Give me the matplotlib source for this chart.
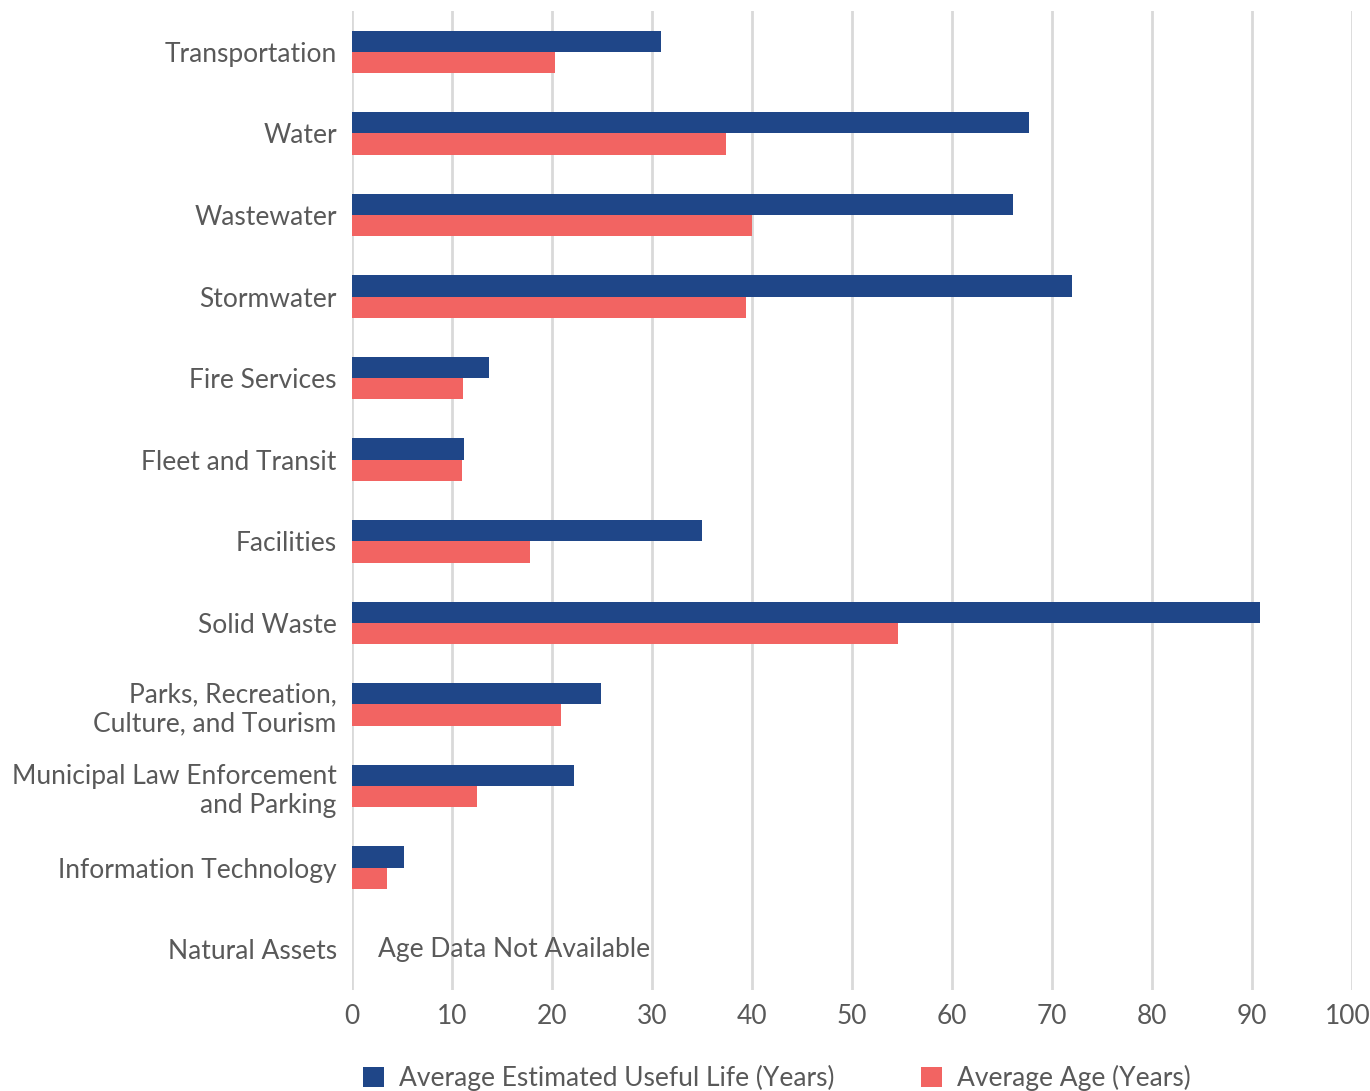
import matplotlib
matplotlib.use("Agg")
import matplotlib.pyplot as plt
import numpy as np
from matplotlib.patches import Patch

categories = ["Transportation", "Water", "Wastewater", "Stormwater", "Fire Services",
              "Fleet and Transit", "Facilities", "Solid Waste",
              "Parks, Recreation,\nCulture, and Tourism",
              "Municipal Law Enforcement\nand Parking",
              "Information Technology", "Natural Assets"]
useful_life = [30.9, 67.7, 66.1, 72.0, 13.7, 11.2, 35.0, 90.8, 24.9, 22.2, 5.2, np.nan]
average_age = [20.3, 37.4, 40.0, 39.4, 11.1, 11.0, 17.8, 54.6, 20.9, 12.5, 3.5, np.nan]
series_names = ["Average Estimated Useful Life (Years)", "Average Age (Years)"]
note_text = "Age Data Not Available"
xticks = [0, 10, 20, 30, 40, 50, 60, 70, 80, 90, 100]

BLUE = "#1F4688"
RED = "#F26462"
GRAY = "#595959"
FS = 19

plt.rcParams['font.family'] = ['Lato', 'DejaVu Sans']

fig = plt.figure(figsize=(13.7, 10.91), dpi=100)
ax = fig.add_axes([352/1370, 1 - 990/1091, 1000/1370, 979/1091])

y = np.arange(len(categories))
h = 0.26
ax.barh(y - h/2, np.nan_to_num(useful_life), height=h, color=BLUE, zorder=3)
ax.barh(y + h/2, np.nan_to_num(average_age), height=h, color=RED, zorder=3)

ax.set_xlim(0, 100)
ax.set_ylim(len(categories) - 0.5, -0.5)
ax.set_xticks(xticks)
# last tick label drawn separately so it can be nudged inside the figure
ax.set_xticklabels([str(t) for t in xticks[:-1]] + [""])
ax.annotate(str(xticks[-1]), xy=(xticks[-1], 0), xycoords=('data', 'axes fraction'),
            xytext=(-3, -10), textcoords='offset points', ha='center', va='top',
            fontsize=FS, color=GRAY)
ax.set_yticks(y)
ax.set_yticklabels(categories, linespacing=1.2)
ax.tick_params(axis='both', length=0, labelsize=FS, colors=GRAY)
ax.tick_params(axis='y', pad=11)
ax.tick_params(axis='x', pad=10)
for lab in ax.get_yticklabels():
    lab.set_horizontalalignment('right')
ax.grid(axis='x', color="#D9D9D9", linewidth=2, zorder=1)
ax.set_axisbelow(True)
for s in ax.spines.values():
    s.set_visible(False)

ax.text(2.6, 11, note_text, va='center', ha='left', fontsize=FS, color=GRAY, zorder=2)

handles = [Patch(facecolor=BLUE, label=series_names[0]), Patch(facecolor=RED, label=series_names[1])]
fig.legend(handles=handles, loc='lower center', bbox_to_anchor=(0.567, -0.022), ncol=2,
           frameon=False, fontsize=FS, labelcolor=GRAY, handlelength=0.8, handleheight=0.8,
           columnspacing=3.3, handletextpad=0.55)

fig.savefig("out.png", dpi=100)
